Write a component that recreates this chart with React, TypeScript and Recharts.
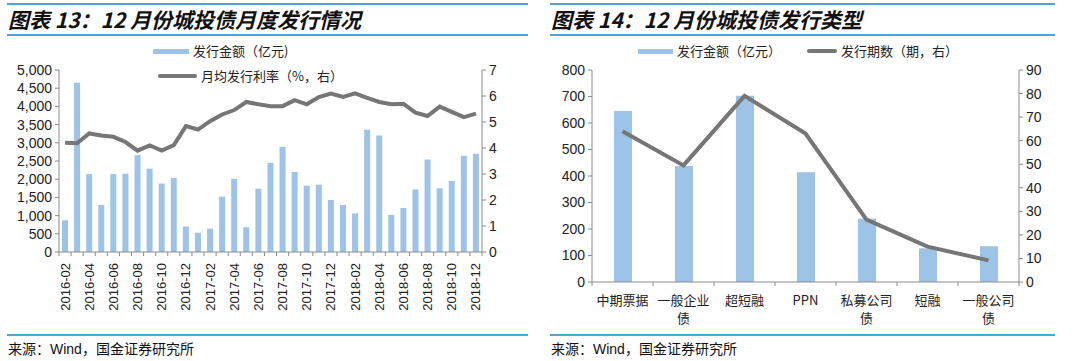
import React from 'react';
import { ComposedChart, Bar, Line, XAxis, YAxis } from 'recharts';

const months = [
  '2016-02','2016-03','2016-04','2016-05','2016-06','2016-07','2016-08','2016-09','2016-10','2016-11','2016-12',
  '2017-01','2017-02','2017-03','2017-04','2017-05','2017-06','2017-07','2017-08','2017-09','2017-10','2017-11','2017-12',
  '2018-01','2018-02','2018-03','2018-04','2018-05','2018-06','2018-07','2018-08','2018-09','2018-10','2018-11','2018-12',
];
const monthlyAmount = [
  870, 4650, 2140, 1290, 2140, 2150, 2660, 2290, 1880, 2030, 700,
  530, 640, 1520, 2010, 680, 1740, 2450, 2890, 2200, 1820, 1850, 1430,
  1290, 1060, 3360, 3200, 1020, 1210, 1720, 2540, 1750, 1950, 2640, 2700,
];
const monthlyRate = [
  4.2, 4.18, 4.56, 4.48, 4.43, 4.23, 3.9, 4.1, 3.9, 4.11, 4.84,
  4.71, 5.03, 5.29, 5.46, 5.77, 5.68, 5.61, 5.61, 5.84, 5.68, 5.96, 6.09,
  5.96, 6.1, 5.93, 5.77, 5.68, 5.7, 5.36, 5.23, 5.59, 5.39, 5.19, 5.32,
];
const leftTicks = [0, 500, 1000, 1500, 2000, 2500, 3000, 3500, 4000, 4500, 5000];
const rightTicks = [0, 1, 2, 3, 4, 5, 6, 7];

const bondTypes = ['中期票据', '一般企业债', '超短融', 'PPN', '私募公司债', '短融', '一般公司债'];
const typeAmount = [645, 438, 703, 414, 239, 127, 135];
const typeCount = [64, 49.5, 79, 63, 26.5, 15, 9.2];
const typeLeftTicks = [0, 100, 200, 300, 400, 500, 600, 700, 800];
const typeRightTicks = [0, 10, 20, 30, 40, 50, 60, 70, 80, 90];

const monthlyData = months.map((m, i) => ({ m, amount: monthlyAmount[i], rate: monthlyRate[i] }));
const typeData = bondTypes.map((t, i) => ({ t, amount: typeAmount[i], count: typeCount[i] }));

const BLUE = '#9DC3E6';
const GRAY = '#767676';
const AXIS = '#8C8C8C';
const RULE = '#4FA6D3';
const NUM_FONT = 'Liberation Sans, Arial, sans-serif';
const CJK_FONT = '"Noto Sans CJK SC", sans-serif';

const LeftXTick = (props: any) => {
  const { x, y, payload, index } = props;
  const step = 423 / 35;
  return (
    <g>
      <line x1={x - step / 2} x2={x - step / 2} y1={y} y2={y + 4} stroke={AXIS} strokeWidth={1} />
      {index === months.length - 1 && (
        <line x1={x + step / 2} x2={x + step / 2} y1={y} y2={y + 4} stroke={AXIS} strokeWidth={1} />
      )}
      {index % 2 === 0 && (
        <text
          x={x}
          y={y + 11}
          transform={`rotate(-90, ${x}, ${y + 11})`}
          textAnchor="end"
          dominantBaseline="central"
          fontSize={13}
          fontFamily={NUM_FONT}
          fill="#222"
        >
          {payload.value}
        </text>
      )}
    </g>
  );
};

const RightXTick = (props: any) => {
  const { x, y, payload, index } = props;
  const step = 427 / 7;
  const v: string = payload.value;
  const lines = v.length > 4 ? [v.slice(0, 4), v.slice(4)] : [v];
  return (
    <g>
      <line x1={x - step / 2} x2={x - step / 2} y1={y} y2={y + 4} stroke={AXIS} strokeWidth={1} />
      {index === bondTypes.length - 1 && (
        <line x1={x + step / 2} x2={x + step / 2} y1={y} y2={y + 4} stroke={AXIS} strokeWidth={1} />
      )}
      {lines.map((l, i) => (
        <text
          key={i}
          x={x}
          y={y + 17 + i * 18}
          textAnchor="middle"
          dominantBaseline="central"
          fontSize={13}
          fontFamily={CJK_FONT}
          fill="#222"
        >
          {l}
        </text>
      ))}
    </g>
  );
};

const Title = ({ text, left, width }: { text: string; left: number; width: number }) => (
  <>
    <div style={{ position: 'absolute', left, top: 3, width, height: 2, background: RULE }} />
    <div
      style={{
        position: 'absolute',
        left: left + 1,
        top: 5,
        height: 28,
        lineHeight: '28px',
        fontFamily: CJK_FONT,
        fontWeight: 700,
        fontStyle: 'italic',
        fontSize: 21,
        color: '#111',
        whiteSpace: 'nowrap',
      }}
    >
      {text}
    </div>
    <div style={{ position: 'absolute', left, top: 34, width, height: 2, background: RULE }} />
  </>
);

const Footer = ({ left, width }: { left: number; width: number }) => (
  <>
    <div style={{ position: 'absolute', left, top: 334, width, height: 2, background: RULE }} />
    <div
      style={{
        position: 'absolute',
        left: left + 1,
        top: 339,
        lineHeight: '18px',
        fontFamily: CJK_FONT,
        fontSize: 14,
        color: '#111',
        whiteSpace: 'nowrap',
      }}
    >
      来源：<span style={{ fontFamily: NUM_FONT }}>Wind</span>，国金证券研究所
    </div>
  </>
);

const LegendItem = ({ x, y, color, w, h, text }: any) => (
  <>
    <div style={{ position: 'absolute', left: x, top: y - h / 2, width: w, height: h, background: color, borderRadius: color === GRAY ? 2 : 0 }} />
    <div
      style={{
        position: 'absolute',
        left: x + w + 4,
        top: y - 9,
        lineHeight: '18px',
        fontFamily: CJK_FONT,
        fontSize: 13,
        color: '#222',
        whiteSpace: 'nowrap',
      }}
    >
      {text}
    </div>
  </>
);

const numTick = { fontSize: 14, fontFamily: NUM_FONT, fill: '#222' };

export default function App() {
  return (
    <div style={{ position: 'absolute', left: 0, top: 0, width: 1080, height: 361, background: '#fff', overflow: 'hidden' }}>
      {/* Left panel */}
      <div style={{ position: 'absolute', left: 0, top: 0, width: 540, height: 361 }}>
        <ComposedChart width={540} height={361} data={monthlyData} margin={{ top: 70, right: 0, bottom: 0, left: 0 }} barCategoryGap="50%">
          <XAxis
            dataKey="m"
            interval={0}
            tick={<LeftXTick />}
            tickLine={false}
            tickSize={0}
            tickMargin={0}
            height={109}
            axisLine={{ stroke: AXIS }}
          />
          <YAxis
            yAxisId="l"
            domain={[0, 5000]}
            ticks={leftTicks}
            width={59}
            tick={numTick}
            tickFormatter={(v: number) => v.toLocaleString('en-US')}
            axisLine={{ stroke: AXIS }}
            tickLine={{ stroke: AXIS }}
            tickSize={4}
            tickMargin={3}
            interval={0}
          />
          <YAxis
            yAxisId="r"
            orientation="right"
            domain={[0, 7]}
            ticks={rightTicks}
            width={58}
            tick={{ ...numTick, textAnchor: 'start' }}
            axisLine={{ stroke: AXIS }}
            tickLine={{ stroke: AXIS }}
            tickSize={4}
            tickMargin={3}
            interval={0}
          />
          <Bar yAxisId="l" dataKey="amount" fill={BLUE} barSize={6} isAnimationActive={false} />
          <Line yAxisId="r" dataKey="rate" stroke={GRAY} strokeWidth={4} dot={false} type="linear" isAnimationActive={false} />
        </ComposedChart>
        <Title text="图表 13：12 月份城投债月度发行情况" left={7} width={521} />
        <LegendItem x={153} y={51} color={BLUE} w={36} h={5} text="发行金额（亿元)" />
        <LegendItem x={158} y={76} color={GRAY} w={39} h={4} text="月均发行利率（%，右）" />
        <Footer left={7} width={521} />
      </div>

      {/* Right panel */}
      <div style={{ position: 'absolute', left: 540, top: 0, width: 540, height: 361 }}>
        <ComposedChart width={540} height={361} data={typeData} margin={{ top: 70, right: 0, bottom: 0, left: 0 }}>
          <XAxis
            dataKey="t"
            interval={0}
            tick={<RightXTick />}
            tickLine={false}
            tickSize={0}
            tickMargin={0}
            height={79}
            axisLine={{ stroke: AXIS }}
          />
          <YAxis
            yAxisId="l"
            domain={[0, 800]}
            ticks={typeLeftTicks}
            width={52}
            tick={numTick}
            axisLine={{ stroke: AXIS }}
            tickLine={{ stroke: AXIS }}
            tickSize={4}
            tickMargin={3}
            interval={0}
          />
          <YAxis
            yAxisId="r"
            orientation="right"
            domain={[0, 90]}
            ticks={typeRightTicks}
            width={61}
            tick={{ ...numTick, textAnchor: 'start' }}
            axisLine={{ stroke: AXIS }}
            tickLine={{ stroke: AXIS }}
            tickSize={4}
            tickMargin={3}
            interval={0}
          />
          <Bar yAxisId="l" dataKey="amount" fill={BLUE} barSize={18} isAnimationActive={false} />
          <Line yAxisId="r" dataKey="count" stroke={GRAY} strokeWidth={4} dot={false} type="linear" isAnimationActive={false} />
        </ComposedChart>
        <Title text="图表 14：12 月份城投债发行类型" left={10} width={505} />
        <LegendItem x={98} y={51} color={BLUE} w={35} h={5} text="发行金额（亿元）" />
        <LegendItem x={267} y={51} color={GRAY} w={30} h={4} text="发行期数（期，右）" />
        <Footer left={10} width={505} />
      </div>
    </div>
  );
}
